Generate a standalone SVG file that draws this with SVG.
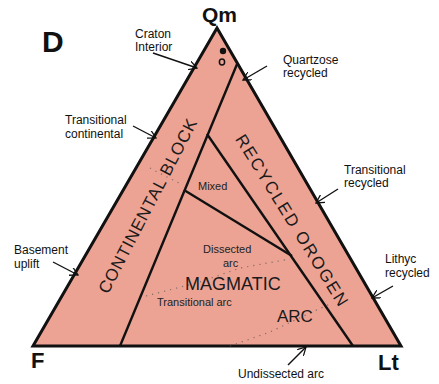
<svg xmlns="http://www.w3.org/2000/svg" width="439" height="384" viewBox="0 0 439 384">
<defs>
<style>
.lbl{font-family:"Liberation Sans",Arial,sans-serif;font-size:12px;fill:#111}
.sm{font-family:"Liberation Sans",Arial,sans-serif;font-size:11px;fill:#222}
.big{font-family:"Liberation Sans",Arial,sans-serif;font-weight:bold;fill:#111}
.field{font-family:"Liberation Sans",Arial,sans-serif;fill:#1a1a1a}
.edge{fill:none;stroke:#111;stroke-width:3;stroke-linejoin:miter}
.inner{fill:none;stroke:#111;stroke-width:2.4}
.dot{fill:none;stroke:#555;stroke-width:1.2;stroke-dasharray:1.2 5;opacity:0.7}
.arr{fill:none;stroke:#111;stroke-width:1.4;marker-end:url(#ah)}
</style>
<marker id="ah" viewBox="0 0 10 10" refX="9" refY="5" markerWidth="9" markerHeight="9" orient="auto" markerUnits="userSpaceOnUse">
<path d="M0,0 L9,5 L0,10" fill="none" stroke="#111" stroke-width="1.4"/>
</marker>
</defs>
<rect width="439" height="384" fill="#fff"/>
<g id="triangle">
<polygon points="217,28 33,346 401,346" fill="#EDA394"/>
<polygon class="edge" points="217,28 33,346 401,346"/>
</g>
<g id="field-lines">
<line class="inner" x1="237.5" y1="63" x2="120" y2="346"/>
<line class="inner" x1="207" y1="134" x2="353" y2="346"/>
<line class="inner" x1="184" y1="190" x2="292" y2="256"/>
<polyline class="dot" points="146,296 200,282 240,268 290,259"/>
<polyline class="dot" points="230,346 270,332 310,313 330,304"/>
<polyline class="dot" points="150,168 165,176 183,185"/>
</g>
<g id="symbols">
<circle cx="223" cy="51" r="3.2" fill="#111"/>
<ellipse cx="222" cy="62" rx="2.6" ry="3" fill="none" stroke="#111" stroke-width="1.5"/>
</g>
<g id="fields">
<text class="field" font-size="17" text-anchor="middle" textLength="194" lengthAdjust="spacing" transform="translate(147.5,206) rotate(-62.5)" y="6">CONTINENTAL BLOCK</text>
<text class="field" font-size="17" text-anchor="middle" textLength="198" lengthAdjust="spacing" transform="translate(292,220) rotate(58.3)" y="6">RECYCLED OROGEN</text>
<text class="field" font-size="18" x="185" y="290">MAGMATIC</text>
<text class="field" font-size="17" x="277" y="322">ARC</text>
<text class="sm" x="198" y="190">Mixed</text>
<text class="sm" x="203" y="253">Dissected</text>
<text class="sm" x="223" y="267">arc</text>
<text class="sm" x="157" y="306">Transitional arc</text>
</g>
<g id="corners">
<text class="big" font-size="30" x="42" y="52">D</text>
<text class="big" font-size="21" x="202" y="22">Qm</text>
<text class="big" font-size="22" x="31" y="368">F</text>
<text class="big" font-size="22" x="378" y="370">Lt</text>
</g>
<g id="labels">
<text class="lbl" x="135" y="38">Craton</text>
<text class="lbl" x="135" y="51">Interior</text>
<text class="lbl" x="283" y="64">Quartzose</text>
<text class="lbl" x="283" y="77">recycled</text>
<text class="lbl" x="65" y="124">Transitional</text>
<text class="lbl" x="65" y="138">continental</text>
<text class="lbl" x="344" y="174">Transitional</text>
<text class="lbl" x="344" y="187">recycled</text>
<text class="lbl" x="14" y="254">Basement</text>
<text class="lbl" x="14" y="268">uplift</text>
<text class="lbl" x="385" y="263">Lithyc</text>
<text class="lbl" x="385" y="277">recycled</text>
<text class="lbl" x="238" y="378">Undissected arc</text>
</g>
<g id="connectors">
<line class="arr" x1="153" y1="53" x2="197" y2="68"/>
<line class="arr" x1="267" y1="66" x2="243" y2="80"/>
<line class="arr" x1="133" y1="126" x2="156" y2="138"/>
<line class="arr" x1="338" y1="189" x2="316" y2="203"/>
<line class="arr" x1="53" y1="262" x2="78" y2="275"/>
<line class="arr" x1="393" y1="286" x2="372" y2="298"/>
<line class="arr" x1="288" y1="365" x2="306" y2="347"/>
</g>
</svg>
